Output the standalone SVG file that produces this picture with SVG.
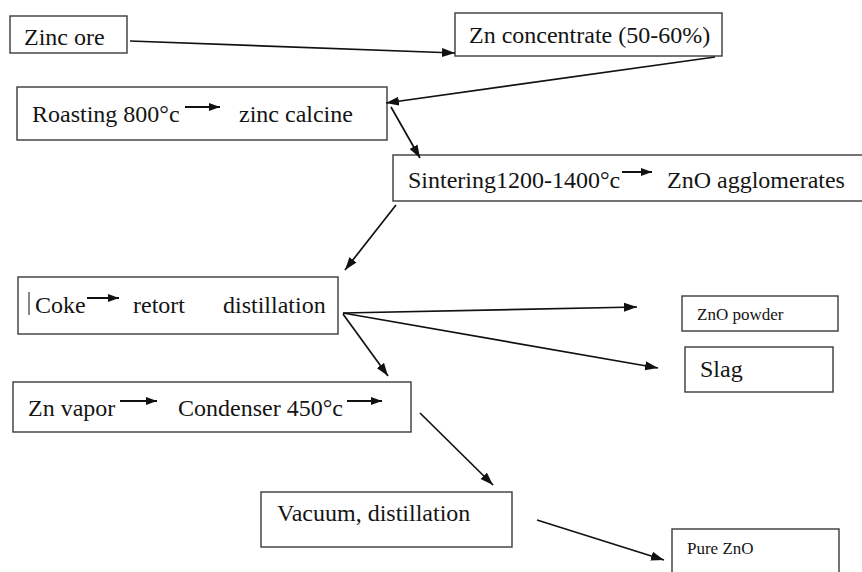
<svg xmlns="http://www.w3.org/2000/svg" width="862" height="572" viewBox="0 0 862 572">
<style>
.box{fill:#fff;stroke:#3a3a3a;stroke-width:1.4}
.t{font-family:'Liberation Serif','Times New Roman',serif;font-size:24px;fill:#141414}
.s{font-size:17px}
.c{fill:none;stroke:#111;stroke-width:1.7}
.ia{fill:none;stroke:#111;stroke-width:2}
</style>
<defs>
<marker id="ah" markerUnits="userSpaceOnUse" markerWidth="14" markerHeight="10" refX="13" refY="5" orient="auto">
<path d="M0,0.5 L13,5 L0,9.5 z" fill="#111"/>
</marker>
<marker id="ih" markerUnits="userSpaceOnUse" markerWidth="12" markerHeight="10" refX="11" refY="5" orient="auto">
<path d="M0,1 L11,5 L0,9 z" fill="#111"/>
</marker>
</defs>
<rect width="862" height="572" fill="#fff"/>
<g id="zinc-ore">
<rect class="box" x="10" y="16" width="117" height="37"/>
<text class="t" x="24" y="45">Zinc ore</text>
</g>
<g id="zn-concentrate">
<rect class="box" x="455" y="13" width="267" height="43"/>
<text class="t" x="469" y="43">Zn concentrate (50-60%)</text>
</g>
<g id="roasting">
<rect class="box" x="17" y="87" width="370" height="53"/>
<text class="t" x="32" y="122">Roasting 800°c</text>
<path class="ia" d="M185,107 H220" marker-end="url(#ih)"/>
<text class="t" x="239" y="122">zinc calcine</text>
</g>
<g id="sintering">
<rect class="box" x="393" y="155" width="480" height="46"/>
<text class="t" x="408" y="188">Sintering1200-1400°c</text>
<path class="ia" d="M622,172 H652" marker-end="url(#ih)"/>
<text class="t" x="667" y="188">ZnO agglomerates</text>
</g>
<g id="coke-retort">
<rect class="box" x="18" y="277" width="320" height="57"/>
<line x1="29" y1="292" x2="29" y2="315" stroke="#111" stroke-width="1"/>
<text class="t" x="35" y="313">Coke</text>
<path class="ia" d="M87,298 H119" marker-end="url(#ih)"/>
<text class="t" x="133" y="313">retort</text>
<text class="t" x="223" y="313">distillation</text>
</g>
<g id="zno-powder">
<rect class="box" x="682" y="296" width="156" height="35"/>
<text class="t s" x="697" y="320">ZnO powder</text>
</g>
<g id="slag">
<rect class="box" x="685" y="347" width="148" height="45"/>
<text class="t" x="700" y="377">Slag</text>
</g>
<g id="zn-vapor">
<rect class="box" x="13" y="382" width="398" height="50"/>
<text class="t" x="28" y="416">Zn vapor</text>
<path class="ia" d="M120,401 H157" marker-end="url(#ih)"/>
<text class="t" x="178" y="416">Condenser 450°c</text>
<path class="ia" d="M347,401 H382" marker-end="url(#ih)"/>
</g>
<g id="vacuum">
<rect class="box" x="261" y="492" width="251" height="55"/>
<text class="t" x="277" y="521">Vacuum, distillation</text>
</g>
<g id="pure-zno">
<rect class="box" x="672" y="529" width="167" height="60"/>
<text class="t s" x="687" y="554">Pure ZnO</text>
</g>
<g id="connectors">
<path class="c" d="M130,41 L455,53" marker-end="url(#ah)"/>
<path class="c" d="M715,57 L386,103" marker-end="url(#ah)"/>
<path class="c" d="M391,107 L420,158" marker-end="url(#ah)"/>
<path class="c" d="M396,205 L345,270" marker-end="url(#ah)"/>
<path class="c" d="M343,313 L637,307" marker-end="url(#ah)"/>
<path class="c" d="M343,313 L658,368" marker-end="url(#ah)"/>
<path class="c" d="M343,314 L388,376" marker-end="url(#ah)"/>
<path class="c" d="M420,413 L493,485" marker-end="url(#ah)"/>
<path class="c" d="M537,520 L664,560" marker-end="url(#ah)"/>
</g>
</svg>
